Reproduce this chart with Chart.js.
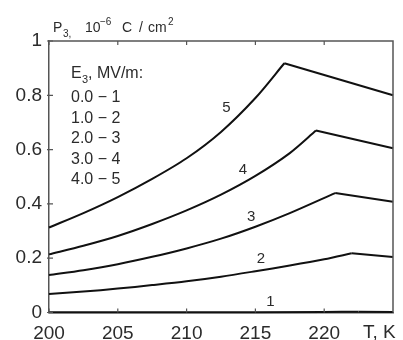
<!DOCTYPE html>
<html>
<head>
<meta charset="utf-8">
<script src="https://cdn.jsdelivr.net/npm/chart.js@4/dist/chart.umd.min.js"></script>
<style>
  html, body { margin: 0; padding: 0; background: #fff; }
</style>
</head>
<body>
<canvas id="polChart" width="403" height="340"></canvas>
<script>
// Curve numbers (field ranges are in the legend text)
const curveNames = ['1', '2', '3', '4', '5'];
const fieldRanges = ['0.0 \u2212 1', '1.0 \u2212 2', '2.0 \u2212 3', '3.0 \u2212 4', '4.0 \u2212 5'];

// Temperature T, K and polarization P3, 10^-6 C/cm^2 for each curve
const temps1 = [200, 210, 220, 222.5, 225];
const pol1   = [0.001, 0.001, 0.002, 0.003, 0.002];

const temps2 = [200, 202.5, 205, 207.5, 210, 212.5, 215, 217.5, 220, 222, 225];
const pol2   = [0.068, 0.077, 0.088, 0.101, 0.115, 0.132, 0.152, 0.173, 0.196, 0.218, 0.204];

const temps3 = [200, 202.5, 205, 207.5, 210, 212.5, 215, 217.5, 220.8, 225];
const pol3   = [0.138, 0.156, 0.178, 0.205, 0.236, 0.272, 0.316, 0.366, 0.440, 0.408];

const temps4 = [200, 202.5, 205, 207.5, 210, 212.5, 215, 217.5, 219.4, 225];
const pol4   = [0.214, 0.246, 0.282, 0.326, 0.376, 0.434, 0.503, 0.587, 0.670, 0.605];

const temps5 = [200, 202.5, 205, 207.5, 210, 212.5, 215, 217.1, 225];
const pol5   = [0.313, 0.366, 0.425, 0.492, 0.568, 0.665, 0.790, 0.918, 0.800];

// Where the curve numbers are written (data coordinates)
const labelT = [216.1, 215.4, 214.7, 214.1, 212.9];
const labelP = [0.039, 0.197, 0.351, 0.524, 0.752];

const xTicks = [200, 205, 210, 215, 220];
const yTicks = [0, 0.2, 0.4, 0.6, 0.8, 1];

const allTemps = [temps1, temps2, temps3, temps4, temps5];
const allPols = [pol1, pol2, pol3, pol4, pol5];

const FONT = 'Liberation Sans, Arial, sans-serif';
const AXIS_COLOR = '#555';
const TEXT_COLOR = '#2b2b2b';

// split each curve at its maximum: smooth rise, straight fall
const datasets = [];
allTemps.forEach((temps, i) => {
    const pts = temps.map((t, k) => ({ x: t, y: allPols[i][k] }));
    let iMax = 0;
    pts.forEach((p, k) => { if (p.y > pts[iMax].y) iMax = k; });
    datasets.push({
        label: 'rise ' + curveNames[i],
        data: pts.slice(0, iMax + 1),
        borderColor: '#111',
        borderWidth: 2,
        tension: 0.3,
        pointRadius: 0,
        clip: 2
    });
    datasets.push({
        label: 'fall ' + curveNames[i],
        data: pts.slice(iMax),
        borderColor: '#111',
        borderWidth: 2,
        tension: 0,
        pointRadius: 0,
        clip: 2
    });
});

// writes pieces of text with sub/superscripts: [text, size, dx, dy]
function drawRuns(ctx, x, y, runs) {
    runs.forEach(r => {
        ctx.font = r[1] + 'px ' + FONT;
        ctx.fillText(r[0], x + r[2], y + r[3]);
    });
}

const framePlugin = {
    id: 'frame',
    afterDraw(chart) {
        const ctx = chart.ctx;
        const a = chart.chartArea;
        const xs = chart.scales.x;
        const ys = chart.scales.y;
        ctx.save();

        // box
        ctx.strokeStyle = AXIS_COLOR;
        ctx.lineWidth = 1.5;
        ctx.beginPath();
        ctx.moveTo(a.left, a.top);
        ctx.lineTo(a.right, a.top);
        ctx.lineTo(a.right, a.bottom);
        ctx.stroke();

        // inward ticks
        ctx.lineWidth = 1.2;
        ctx.beginPath();
        xTicks.forEach(v => {
            const px = xs.getPixelForValue(v);
            ctx.moveTo(px, a.bottom); ctx.lineTo(px, a.bottom - 4);
            ctx.moveTo(px, a.top); ctx.lineTo(px, a.top + 4);
        });
        yTicks.forEach(v => {
            const py = ys.getPixelForValue(v);
            ctx.moveTo(a.left - 2, py); ctx.lineTo(a.left + 4, py);
        });
        ctx.stroke();

        ctx.fillStyle = TEXT_COLOR;
        ctx.textBaseline = 'alphabetic';
        ctx.textAlign = 'left';

        // axis title on top
        const tx = a.left + 4, ty = a.top - 9;
        drawRuns(ctx, tx, ty, [
            ['P', 14, 0, 0],
            ['3,', 10, 10, 5],
            ['10', 14, 32, 0],
            ['\u22126', 10, 47, -7],
            ['C', 14, 69, 0],
            ['/', 14, 86, 0],
            ['cm', 14, 95, 0],
            ['2', 10, 115, -7]
        ]);

        // x-axis name at the right end
        ctx.font = '19px ' + FONT;
        ctx.fillText('T, K', a.right - 30, xs.bottom - 2);

        // field legend
        const lx = a.left + 22;
        drawRuns(ctx, lx, a.top + 37, [
            ['E', 16, 0, 0],
            ['3', 11, 11, 5],
            [', MV/m:', 16, 17, 0]
        ]);
        ctx.font = '16px ' + FONT;
        fieldRanges.forEach((s, i) => {
            ctx.fillText(s, lx, a.top + 61 + 20.5 * i);
        });

        // curve numbers
        ctx.font = '15px ' + FONT;
        ctx.textAlign = 'center';
        ctx.textBaseline = 'middle';
        curveNames.forEach((n, i) => {
            ctx.fillText(n, xs.getPixelForValue(labelT[i]), ys.getPixelForValue(labelP[i]));
        });
        ctx.restore();
    }
};

new Chart(document.getElementById('polChart').getContext('2d'), {
    type: 'line',
    data: { datasets: datasets },
    options: {
        responsive: false,
        animation: false,
        layout: { padding: { top: 41, right: 8, left: 0, bottom: 0 } },
        plugins: {
            legend: { display: false },
            tooltip: { enabled: false }
        },
        scales: {
            x: {
                type: 'linear',
                min: 200,
                max: 225,
                grid: { display: false, drawTicks: false },
                border: { color: AXIS_COLOR, width: 1.5 },
                ticks: {
                    stepSize: 5,
                    padding: 10,
                    maxRotation: 0,
                    color: TEXT_COLOR,
                    font: { family: FONT, size: 19 },
                    callback: v => (v === 225 ? '' : v)
                },
                afterFit: s => { s.height = 27.5; }
            },
            y: {
                min: 0,
                max: 1,
                grid: { display: false, drawTicks: false },
                border: { color: AXIS_COLOR, width: 1.5 },
                ticks: {
                    stepSize: 0.2,
                    padding: 7,
                    color: TEXT_COLOR,
                    font: { family: FONT, size: 19 },
                    callback: v => String(Number(v.toFixed(1)))
                },
                afterFit: s => { s.width = 49; }
            }
        }
    },
    plugins: [framePlugin]
});
</script>
</body>
</html>
